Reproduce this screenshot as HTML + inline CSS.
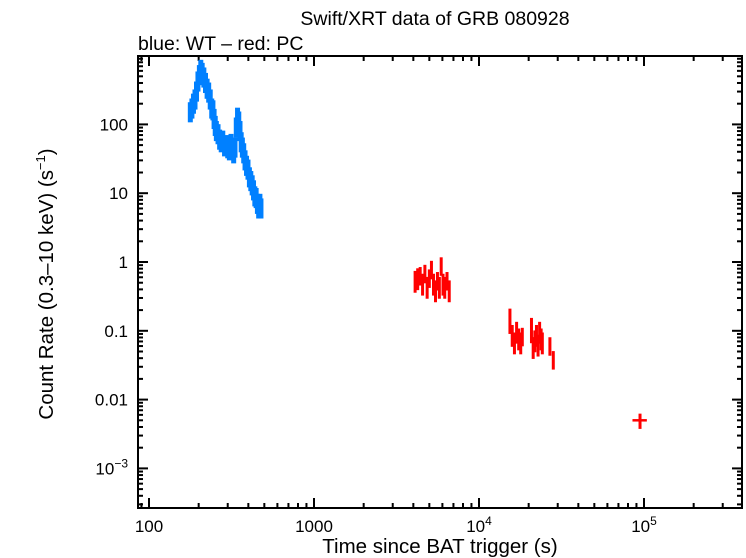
<!DOCTYPE html>
<html><head><meta charset="utf-8"><style>
body{margin:0;background:#fff}
svg{display:block;font-family:"Liberation Sans",sans-serif}
</style></head><body>
<svg id="c" width="746" height="558" viewBox="0 0 746 558">
<text x="435" y="25" font-size="19.5" text-anchor="middle">Swift/XRT data of GRB 080928</text>
<text x="138" y="50" font-size="19.5">blue: WT – red: PC</text>
<text x="440" y="553" font-size="20.5" text-anchor="middle">Time since BAT trigger (s)</text>
<text transform="translate(53,284) rotate(-90)" font-size="20.5" text-anchor="middle">Count Rate (0.3–10 keV) (s<tspan dy="-8" font-size="13">−1</tspan><tspan dy="8">)</tspan></text>
<rect x="138" y="56" width="604" height="452" fill="none" stroke="#000" stroke-width="2"/>
<g id="ticks"></g><g id="marks"></g>
</svg>
<script>
const wtTimes=[178,182,186,190,194,198,202,206,210,215,220,225,230,235,240,244,248,252,256,262,268,274,280,287,294,300,307,314,320,326,332,338,344,350,356,362,368,375,382,390,398,406,414,422,430,438,446,454,462,470,477];
const wtRates=[150,170,200,230,300,420,520,620,560,480,400,330,290,230,170,160,120,95,80,72,60,55,58,48,50,45,42,52,44,38,46,90,125,110,80,55,46,38,30,25,22,17,15,13,11,9,8.5,7,6,7,6];
const pcTimes=[4100,4250,4400,4550,4700,4850,5000,5150,5300,5450,5600,5750,5900,6050,6200,6400,6600,15400,15900,16400,16900,17400,17900,18300,20800,21300,21800,22300,22800,23300,23800,24200,26900,28200,94600];
const pcRates=[0.55,0.6,0.65,0.5,0.7,0.45,0.6,0.8,0.5,0.4,0.55,0.45,0.9,0.5,0.45,0.55,0.4,0.15,0.09,0.07,0.1,0.08,0.07,0.085,0.11,0.06,0.075,0.09,0.065,0.1,0.08,0.07,0.062,0.039,0.005];
const pcErrs=[0.35,0.35,0.3,0.35,0.3,0.35,0.3,0.3,0.35,0.35,0.3,0.35,0.3,0.35,0.35,0.3,0.35,0.4,0.35,0.35,0.35,0.35,0.35,0.3,0.4,0.35,0.35,0.35,0.35,0.35,0.35,0.35,0.3,0.3,0.25];
const xTicks=[100,1000,10000,100000];
const xLabels=["100","1000","10^4","10^5"];
const yTicks=[100,10,1,0.1,0.01,0.001];
const yLabels=["100","10","1","0.1","0.01","10^-3"];
const NS="http://www.w3.org/2000/svg";
const X=t=>149+165*(Math.log10(t)-2);
const Y=r=>262-68.8*Math.log10(r);
function mk(tag,at,parent){const e=document.createElementNS(NS,tag);for(const k in at)e.setAttribute(k,at[k]);parent.appendChild(e);return e;}
const tk=document.getElementById('ticks'),mg=document.getElementById('marks');
function lab(parent,x,y,s,anchor){const t=mk('text',{x:x,y:y,'font-size':17,'text-anchor':anchor},parent);
 if(s.includes('^')){const [b,p]=s.split('^');t.textContent=b;const sp=mk('tspan',{dy:-7,'font-size':12},t);sp.textContent=p.replace('-','−');}else t.textContent=s;return t;}
for(let d=1;d<=5;d++)for(let m=1;m<10;m++){const v=m*Math.pow(10,d);const x=X(v);if(x<139||x>741)continue;const L=m==1?10:5;
 mk('line',{x1:x,x2:x,y1:508,y2:508-L,stroke:'#000','stroke-width':2},tk);mk('line',{x1:x,x2:x,y1:56,y2:56+L,stroke:'#000','stroke-width':2},tk);}
for(let d=-4;d<=2;d++)for(let m=1;m<10;m++){const v=m*Math.pow(10,d);const y=Y(v);if(y<57||y>507)continue;const L=m==1?10:5;
 mk('line',{x1:138,x2:138+L,y1:y,y2:y,stroke:'#000','stroke-width':2},tk);mk('line',{x1:742,x2:742-L,y1:y,y2:y,stroke:'#000','stroke-width':2},tk);}
xTicks.forEach((v,i)=>{const t=lab(tk,X(v),532,xLabels[i],'middle');

});
yTicks.forEach((v,i)=>{const t=lab(tk,128,Y(v)+6,yLabels[i],'end');

});
wtTimes.forEach((t,i)=>{const r=wtRates[i];const x=X(t);
 const l=mk('line',{x1:x,x2:x,y1:Y(r*1.4),y2:Y(r/1.4),stroke:'#0080ff','stroke-width':5},mg);
 
 
 const h=mk('line',{x1:X(t*0.985),x2:X(t*1.015),y1:Y(r),y2:Y(r),stroke:'#0080ff','stroke-width':3},mg);
 
 });
pcTimes.forEach((t,i)=>{const r=pcRates[i],e=pcErrs[i];const x=X(t);
 const l=mk('line',{x1:x,x2:x,y1:Y(r*(1+e)),y2:Y(r*(1-e)),stroke:'#ff0000','stroke-width':3},mg);
 
 
 const f=i==pcTimes.length-1?0.1:0.015;
 const h=mk('line',{x1:X(t*(1-f)),x2:X(t*(1+f)),y1:Y(r),y2:Y(r),stroke:'#ff0000','stroke-width':2.5},mg);
 
 });
</script>
</body></html>
